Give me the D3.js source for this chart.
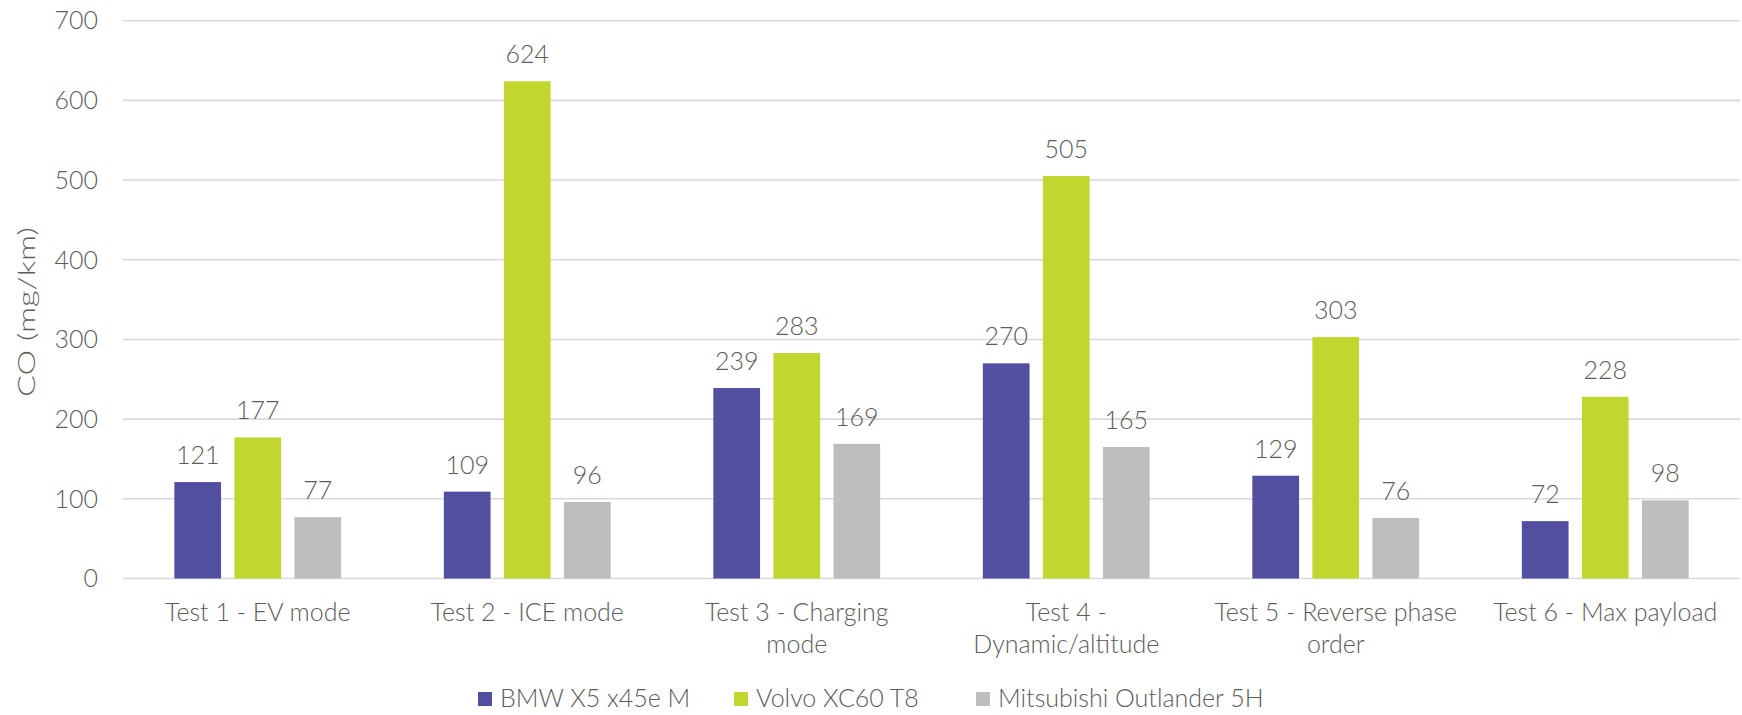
<!DOCTYPE html>
<html>
<head>
<meta charset="utf-8">
<script src="https://cdn.jsdelivr.net/npm/d3@7"></script>
<style>
  html, body { margin: 0; padding: 0; background: #fff; }
  svg { display: block; }
  text { font-family: Lato, "Open Sans", sans-serif; font-weight: 300; fill: #5c5c5c; }
</style>
</head>
<body>
<svg id="chart" width="1742" height="715"></svg>
<script>
const categories = [
  ["Test 1 - EV mode"],
  ["Test 2 - ICE mode"],
  ["Test 3 - Charging", "mode"],
  ["Test 4 -", "Dynamic/altitude"],
  ["Test 5 - Reverse phase", "order"],
  ["Test 6 - Max payload"]
];
const seriesNames = ["BMW X5 x45e M", "Volvo XC60 T8", "Mitsubishi Outlander 5H"];
const bmw = [121, 109, 239, 270, 129, 72];
const volvo = [177, 624, 283, 505, 303, 228];
const mitsubishi = [77, 96, 169, 165, 76, 98];
const yTicks = [0, 100, 200, 300, 400, 500, 600, 700];
const colors = ["#524FA1", "#C1D72F", "#BDBEC0"];
const yTitle = "CO (mg/km)";

const seriesValues = [bmw, volvo, mitsubishi];
const W = 1742, H = 715;
const margin = { left: 123, right: 2, top: 20.7, bottom: H - 578.5 };
const svg = d3.select("#chart");

const catKeys = categories.map((c, i) => i);
const x0 = d3.scaleBand().domain(catKeys).range([margin.left, W - margin.right])
  .paddingInner(0.381).paddingOuter(0.1905);
const x1 = d3.scaleBand().domain(d3.range(seriesNames.length)).range([0, x0.bandwidth()])
  .paddingInner(0.222).paddingOuter(0);
const y = d3.scaleLinear().domain([0, 700]).range([H - margin.bottom, margin.top]);

// gridlines
svg.append("g").selectAll("line").data(yTicks).join("line")
  .attr("x1", margin.left).attr("x2", W - margin.right)
  .attr("y1", d => y(d)).attr("y2", d => y(d))
  .attr("stroke", "#D9D9D9").attr("stroke-width", 1.6);

// y tick labels
svg.append("g").selectAll("text").data(yTicks).join("text")
  .attr("x", 98).attr("y", d => y(d)).attr("dy", "0.35em")
  .attr("text-anchor", "end").style("font-size", "25px").text(d => d);

// y title
svg.append("text")
  .attr("transform", `translate(27,312) rotate(-90)`)
  .attr("text-anchor", "middle").attr("dy", "0.35em")
  .attr("textLength", 170).attr("lengthAdjust", "spacingAndGlyphs")
  .style("font-size", "24px").text(yTitle);

// bars
const groups = svg.append("g").selectAll("g").data(catKeys).join("g")
  .attr("transform", d => `translate(${x0(d)},0)`);
groups.selectAll("rect")
  .data(ci => seriesValues.map((vals, si) => ({ si, v: vals[ci] })))
  .join("rect")
  .attr("x", d => x1(d.si)).attr("width", x1.bandwidth())
  .attr("y", d => y(d.v)).attr("height", d => y(0) - y(d.v))
  .attr("fill", d => colors[d.si]);
groups.selectAll("text.val")
  .data(ci => seriesValues.map((vals, si) => ({ si, v: vals[ci] })))
  .join("text").attr("class", "val")
  .attr("x", d => x1(d.si) + x1.bandwidth() / 2)
  .attr("y", d => y(d.v) - 18)
  .attr("text-anchor", "middle").style("font-size", "25px").text(d => d.v);

// x labels
const xl = svg.append("g").selectAll("text").data(catKeys).join("text")
  .attr("text-anchor", "middle").style("font-size", "25px")
  .attr("transform", d => `translate(${x0(d) + x0.bandwidth() / 2},621)`);
xl.selectAll("tspan").data(d => categories[d]).join("tspan")
  .attr("x", 0).attr("y", (d, i) => i * 31.5).text(d => d);

// legend
const legendX = [478, 734, 976];
const lg = svg.append("g").selectAll("g").data(seriesNames).join("g")
  .attr("transform", (d, i) => `translate(${legendX[i]},692)`);
lg.append("rect").attr("width", 14).attr("height", 14).attr("fill", (d, i) => colors[i]);
lg.append("text").attr("x", 22).attr("y", 15).style("font-size", "25px").text(d => d);
</script>
</body>
</html>
